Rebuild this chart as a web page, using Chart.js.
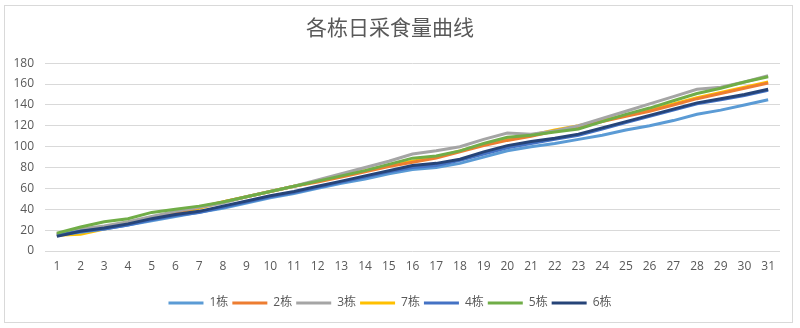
<!DOCTYPE html>
<html>
<head>
<meta charset="utf-8">
<script src="https://cdn.jsdelivr.net/npm/chart.js@4"></script>
<style>
  html, body { margin: 0; padding: 0; background: #fff; }
  #wrap { width: 800px; height: 328px; position: relative; }
</style>
</head>
<body>
<div id="wrap"><canvas id="c" width="800" height="328"></canvas></div>
<script>
// Days of the month
const days = Array.from({length: 31}, (_, i) => String(i + 1));

// Daily feed intake per house
const house1 = [15, 18, 21, 25, 29, 33, 37, 41, 46, 51, 55, 60, 65, 69, 74, 78, 80, 84, 90, 96, 100, 103, 107, 111, 116, 120, 125, 131, 135, 140, 145];
const house2 = [16, 20, 23, 27, 32, 37, 42, 47, 52, 57, 62, 66, 71, 76, 81, 85, 89, 95, 101, 106, 110, 115, 119, 124, 129, 134, 140, 146, 151, 156, 161];
const house3 = [16, 21, 24, 28, 33, 38, 42, 46, 52, 57, 62, 68, 74, 80, 86, 93, 96, 100, 107, 113, 112, 115, 120, 127, 134, 141, 148, 155, 157, 162, 168];
const house7 = [15, 16, 21, 26, 31, 36, 41, 47, 52, 57, 62, 67, 72, 77, 82, 86, 90, 96, 102, 107, 111, 116, 120, 125, 130, 135, 141, 147, 152, 157, 162];
const house4 = [15, 19, 21, 25, 30, 34, 37, 42, 47, 52, 56, 61, 66, 71, 76, 80, 82, 87, 93, 99, 103, 107, 111, 117, 123, 129, 135, 141, 145, 149, 154];
const house5 = [17, 23, 28, 31, 37, 40, 43, 47, 52, 57, 62, 67, 72, 77, 83, 89, 91, 96, 103, 109, 111, 114, 117, 124, 131, 137, 144, 151, 156, 162, 167];
const house6 = [14, 19, 22, 26, 31, 35, 38, 43, 48, 53, 57, 62, 67, 72, 77, 82, 84, 88, 95, 101, 105, 108, 112, 118, 124, 130, 136, 142, 146, 150, 155];

const seriesNames = ['1栋', '2栋', '3栋', '7栋', '4栋', '5栋', '6栋'];
const seriesValues = [house1, house2, house3, house7, house4, house5, house6];
const seriesColors = ['#5B9BD5', '#ED7D31', '#A5A5A5', '#FFC000', '#4472C4', '#70AD47', '#264478'];
// Paint order: larger numbers go further back
const paintOrder = [6, 5, 4, 7, 3, 2, 1];

const textColor = '#595959';
const tickFont = { family: 'Open Sans, Noto Sans, sans-serif', size: 12 };

const datasets = seriesNames.map((name, i) => ({
  label: name,
  data: seriesValues[i],
  borderColor: seriesColors[i],
  backgroundColor: seriesColors[i],
  borderWidth: 3,
  pointRadius: 0,
  tension: 0,
  order: paintOrder[i]
}));

// Thin frame around the whole chart
const framePlugin = {
  id: 'frame',
  beforeDraw(chart) {
    const ctx = chart.ctx;
    ctx.save();
    ctx.fillStyle = '#fff';
    ctx.fillRect(0, 0, chart.width, chart.height);
    ctx.strokeStyle = '#d9d9d9';
    ctx.lineWidth = 1;
    ctx.strokeRect(4.5, 5.5, 788, 317);
    ctx.restore();
  }
};

new Chart(document.getElementById('c'), {
  type: 'line',
  data: { labels: days, datasets },
  plugins: [framePlugin],
  options: {
    responsive: false,
    animation: false,
    layout: { padding: { left: 0, right: 20, top: 0, bottom: 9 } },
    plugins: {
      title: {
        display: true,
        text: '各栋日采食量曲线',
        color: textColor,
        font: { family: 'Noto Sans CJK SC', size: 21, weight: 'normal' },
        padding: { top: 14, bottom: 24 }
      },
      legend: {
        position: 'bottom',
        labels: {
          color: textColor,
          font: { family: 'Open Sans, Noto Sans CJK SC, sans-serif', size: 12 },
          boxWidth: 35,
          boxHeight: 3,
          padding: 4,
          sort: (a, b) => a.datasetIndex - b.datasetIndex,
          generateLabels(chart) {
            const items = Chart.defaults.plugins.legend.labels.generateLabels(chart);
            items.forEach(it => { it.lineWidth = 0; it.strokeStyle = 'rgba(0,0,0,0)'; });
            return items;
          }
        }
      },
      tooltip: { enabled: false }
    },
    scales: {
      x: {
        offset: true,
        grid: { display: false, drawTicks: false },
        border: { display: false },
        ticks: { color: textColor, font: tickFont, padding: 8, maxRotation: 0, autoSkip: false },
        afterFit(s) { s.height = 42; }
      },
      y: {
        min: 0,
        max: 180,
        grid: { color: '#d9d9d9', lineWidth: 1, drawTicks: false },
        border: { display: false },
        ticks: { stepSize: 20, color: textColor, font: tickFont, padding: 11 },
        afterFit(s) { s.width = 45; }
      }
    }
  }
});
</script>
</body>
</html>
